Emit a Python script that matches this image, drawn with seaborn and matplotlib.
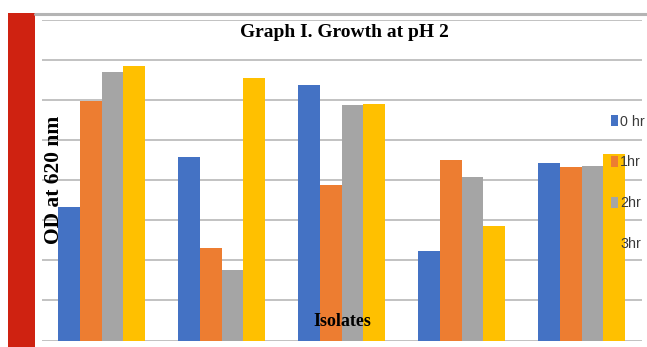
import matplotlib
matplotlib.use("Agg")
import matplotlib.pyplot as plt
import seaborn as sns
import pandas as pd
from matplotlib.lines import Line2D
from matplotlib.patches import Rectangle

# Optical density readings per isolate at each time point
isolates = ["I1", "I2", "I3", "I4", "I5"]
times = ["0 hr", "1hr", "2hr", "3hr"]
od_0hr = [3.33, 4.57, 6.38, 2.24, 4.44]
od_1hr = [5.97, 2.32, 3.88, 4.51, 4.33]
od_2hr = [6.71, 1.75, 5.87, 4.07, 4.36]
od_3hr = [6.85, 6.56, 5.91, 2.85, 4.65]
palette = ["#4472C4", "#ED7D31", "#A5A5A5", "#FFC000"]

rows = []
for t, vals in zip(times, [od_0hr, od_1hr, od_2hr, od_3hr]):
    for iso, v in zip(isolates, vals):
        rows.append({"Isolate": iso, "Time": t, "OD": v})
df = pd.DataFrame(rows)

sns.set_theme(style="white")
W, H = 647, 347
fig = plt.figure(figsize=(W / 100, H / 100), dpi=100)
fig.patch.set_facecolor("white")

ax = fig.add_axes([41.5 / W, 6.5 / H, 600 / W, 320.5 / H])
ax.set_axisbelow(True)
sns.barplot(data=df, x="Isolate", y="OD", hue="Time", hue_order=times,
            palette=palette, width=0.725, gap=0, saturation=1,
            errorbar=None, ax=ax, legend=True, linewidth=0)

ax.set_xlim(-0.5, 4.5)
ax.set_ylim(0, 8)
ax.set_yticks(range(0, 9))
ax.yaxis.grid(True, color="#c2c2c2", linewidth=1.4)
ax.set_xticks([])
ax.tick_params(left=False, bottom=False, labelleft=False, labelbottom=False)
ax.set_xlabel("")
ax.set_ylabel("")
for s in ax.spines.values():
    s.set_visible(False)

handles, labels = ax.get_legend_handles_labels()
ax.get_legend().remove()
leg = ax.legend(handles, labels, loc="upper left",
                bbox_to_anchor=(610.5 / W, 1 - 114.5 / H),
                bbox_transform=fig.transFigure, frameon=False,
                prop={"family": "Liberation Sans", "size": 10.3},
                handlelength=0.54, handleheight=0.84, handletextpad=0.15,
                labelspacing=1.88, borderpad=0, borderaxespad=0)
for txt in leg.get_texts():
    txt.set_color("#3a3a3a")
leg.set_zorder(10)

# left red band and top rule
fig.add_artist(Rectangle((8 / W, 0), 27 / W, 1 - 13 / H, transform=fig.transFigure,
                         facecolor="#CF2211", edgecolor="none"))
fig.add_artist(Line2D([35 / W, 1], [1 - 14 / H] * 2, transform=fig.transFigure,
                      color="#b4b4b4", linewidth=2.2))

fig.text(344 / W, 1 - 32.5 / H, "Graph I. Growth at pH 2", ha="center", va="center",
         fontfamily="Liberation Serif", fontweight="bold", fontsize=14, color="black")
fig.text(54 / W, 1 - 180 / H, "OD at 620 nm", rotation=90, ha="center", va="center",
         fontfamily="Liberation Serif", fontweight="bold", fontsize=15.5, color="black")
fig.text(342.5 / W, 1 - 322 / H, "Isolates", ha="center", va="center",
         fontfamily="Liberation Serif", fontweight="bold", fontsize=13, color="black")

fig.savefig("out.png", dpi=100)
